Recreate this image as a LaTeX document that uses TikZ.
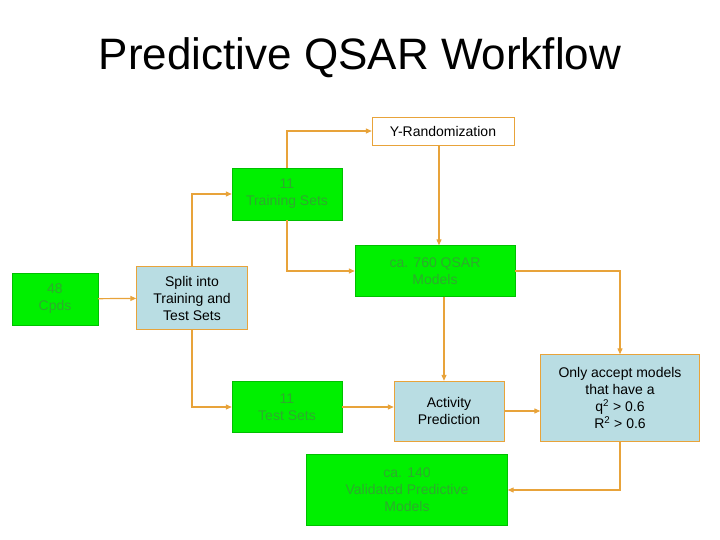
\documentclass[tikz,border=0pt]{standalone}
\usepackage{fontspec}
\setmainfont{Liberation Sans}
\usetikzlibrary{arrows.meta}
\definecolor{org}{HTML}{E8A33A}
\definecolor{grn}{HTML}{00F000}
\definecolor{gtxt}{HTML}{2EAA2E}
\definecolor{lb}{HTML}{B9DDE3}
\begin{document}
\begin{tikzpicture}[x=1pt,y=-1pt,
  gbox/.style={fill=grn,draw=grn!80!black,text=gtxt,align=center,font=\fontsize{14}{17}\selectfont,inner sep=0},
  bbox/.style={fill=lb,draw=org,align=center,font=\fontsize{14}{17}\selectfont,inner sep=0},
  wbox/.style={fill=white,draw=org,align=center,font=\fontsize{14}{17}\selectfont,inner sep=0},
  conn/.style={draw=org,line width=1.2pt,-{Triangle[length=6pt,width=5pt]}}]
\useasboundingbox (0,0) rectangle (720,540);
\node (title) at (360,58) {\fontsize{44}{48}\selectfont Predictive QSAR Workflow};
\node[wbox,minimum width=142,minimum height=28] (yr) at (443,131) {Y-Randomization};
\node[gbox,minimum width=110,minimum height=52] (tr) at (287,194) {11\\Training Sets};
\node[gbox,minimum width=86,minimum height=52] (cp) at (55,299) {48\\Cpds};
\node[bbox,minimum width=111,minimum height=63] (sp) at (192,298) {Split into\\Training and\\Test Sets};
\node[gbox,minimum width=160,minimum height=51] (qs) at (435,271) {ca. 760 QSAR\\Models};
\node[gbox,minimum width=110,minimum height=51] (ts) at (287,407) {11\\Test Sets};
\node[bbox,minimum width=110,minimum height=60] (ap) at (449,411) {Activity\\Prediction};
\node[bbox,minimum width=159,minimum height=87] (oa) at (620,398) {Only accept models\\that have a\\q\textsuperscript{2} > 0.6\\R\textsuperscript{2} > 0.6};
\node[gbox,minimum width=201,minimum height=71] (vm) at (407,490) {ca. 140\\Validated Predictive\\Models};
\draw[conn] (cp) -- (sp);
\draw[conn] (sp.north) |- (tr.west);
\draw[conn] (tr.north) |- (yr.west);
\draw[conn] (yr.south -| 439,0) -- (qs.north -| 439,0);
\draw[conn] (tr.south) |- (qs.west);
\draw[conn] (qs.east) -| (oa.north);
\draw[conn] (qs.south -| 444,0) -- (ap.north -| 444,0);
\draw[conn] (sp.south) |- (ts.west);
\draw[conn] (ts.east) -- (ap.west |- ts.east);
\draw[conn] (ap.east) -- (oa.west |- ap.east);
\draw[conn] (oa.south) |- (vm.east);
\end{tikzpicture}
\end{document}
